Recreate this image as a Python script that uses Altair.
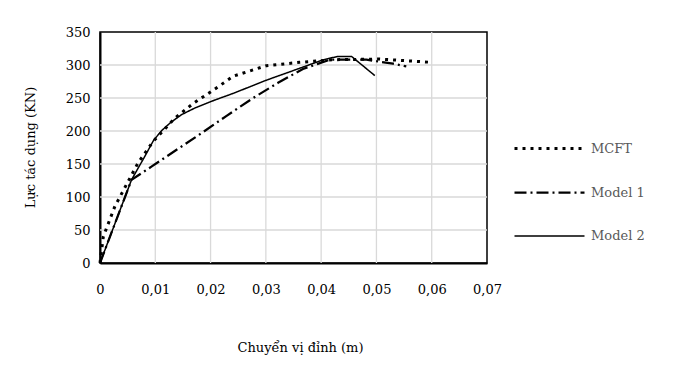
import altair as alt
import pandas as pd

series_names = ["MCFT", "Model 1", "Model 2"]

mcft_x = [0, 0.0006, 0.0027, 0.0048, 0.0069, 0.0096, 0.0136, 0.0169, 0.0205, 0.0241, 0.0301, 0.0361, 0.0421, 0.0506, 0.0600]
mcft_y = [0, 40, 86, 119, 152, 184, 220, 242, 262, 283, 299, 304, 308, 309, 304]

model1_x = [0, 0.0057, 0.0093, 0.0184, 0.0229, 0.0277, 0.0322, 0.0367, 0.0416, 0.0482, 0.0530, 0.0554]
model1_y = [0, 126, 146, 197, 223, 250, 273, 294, 308, 308, 302, 298]

model2_x = [0, 0.0057, 0.0080, 0.0097, 0.0112, 0.0128, 0.0148, 0.0172, 0.0208, 0.0241, 0.0301, 0.0361, 0.0404, 0.0430, 0.0455, 0.0497]
model2_y = [0, 126, 160, 186, 201, 213, 225, 235, 247, 257, 277, 295, 308, 313, 313, 284]

x_ticks = [0, 0.01, 0.02, 0.03, 0.04, 0.05, 0.06, 0.07]
y_ticks = [0, 50, 100, 150, 200, 250, 300, 350]

rows = []
for name, xs, ys in zip(series_names, [mcft_x, model1_x, model2_x], [mcft_y, model1_y, model2_y]):
    for i, (a, b) in enumerate(zip(xs, ys)):
        rows.append({"series": name, "x": a, "y": b, "i": i})
df = pd.DataFrame(rows)
xgrid = pd.DataFrame({"x": x_ticks[1:-1]})
ygrid = pd.DataFrame({"y": y_ticks[1:-1]})

FONT = "DejaVu Serif"

xscale = alt.Scale(domain=[0, 0.07], nice=False)
yscale = alt.Scale(domain=[0, 350], nice=False)

x_axis = alt.Axis(values=x_ticks, title="Chuyển vị đỉnh (m)", grid=False, labelFlush=False,
                  labelExpr="datum.value == 0 ? '0' : replace(format(datum.value, '.2f'), '.', ',')",
                  labelPadding=20, titleY=84, titleBaseline="middle", titleX=200)
y_axis = alt.Axis(values=y_ticks, title="Lực tác dụng (KN)", labelPadding=10, grid=False,
                  labelFlush=False,
                  titleX=-70, titleY=115, titleAngle=270, titleAlign="center",
                  titleBaseline="middle")

legend_kw = dict(title=None, orient="none", legendX=413, legendY=80,
                 symbolType="stroke", symbolSize=4900, rowPadding=0, labelOffset=5,
                 labelFont=FONT, labelFontSize=13, labelColor="#595959",
                 symbolStrokeColor="black")

vgrid = alt.Chart(xgrid).mark_rule(color="#d9d9d9", strokeWidth=1.3).encode(
    x=alt.X("x:Q", scale=xscale, axis=None)
)
hgrid = alt.Chart(ygrid).mark_rule(color="#d9d9d9", strokeWidth=1.3).encode(
    y=alt.Y("y:Q", scale=yscale, axis=None)
)

lines = alt.Chart(df).mark_line(color="black").encode(
    x=alt.X("x:Q", scale=xscale, axis=x_axis),
    y=alt.Y("y:Q", scale=yscale, axis=y_axis),
    strokeDash=alt.StrokeDash("series:N",
                              scale=alt.Scale(domain=series_names, range=[[3, 5], [12, 4, 2, 4], [1, 0]]),
                              legend=alt.Legend(**legend_kw)),
    strokeWidth=alt.StrokeWidth("series:N",
                                scale=alt.Scale(domain=series_names, range=[3, 1.5, 1.5]),
                                legend=alt.Legend(**legend_kw)),
    order="i:Q",
)

chart = alt.layer(vgrid, hgrid, lines).resolve_axis(
    x="independent", y="independent"
).properties(
    width=387, height=231,
    autosize=alt.AutoSizeParams(type="none"),
    padding={"left": 92, "top": 24, "right": 183, "bottom": 95},
).configure_view(
    stroke="black", strokeWidth=1.5
).configure_axis(
    labelFont=FONT, titleFont=FONT, labelFontSize=13, titleFontSize=13,
    labelColor="black", titleColor="black", titleFontWeight="normal",
    domainColor="black", domainWidth=2,
    ticks=False,
).configure_legend(
    labelFont=FONT, labelFontSize=13, labelColor="#595959",
    symbolStrokeColor="black",
)

chart.save("out.html", embed_options={"renderer": "svg", "actions": False})
